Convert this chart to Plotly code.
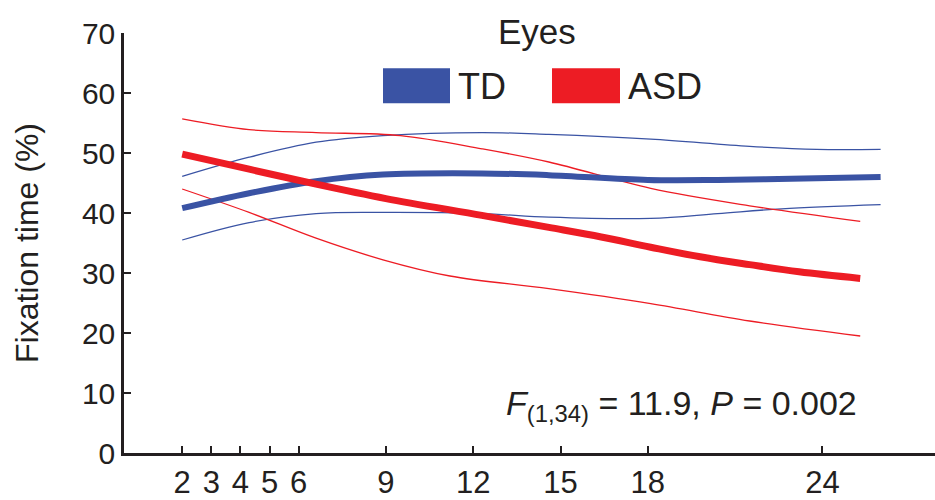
import plotly.graph_objects as go

# ---- data (age in months, fixation time in %) ----
td_months = [2, 4.3, 6.6, 8.9, 12.3, 14.6, 18.0, 20.4, 23.8, 26.0]
td_mean = [40.8, 43.3, 45.3, 46.4, 46.6, 46.3, 45.5, 45.5, 45.8, 46.0]
td_up_months = [2, 4.3, 6.6, 8.9, 12.3, 14.6, 18.1, 21.5, 23.8, 26.0]
td_upper = [46.1, 49.3, 51.8, 52.9, 53.4, 53.1, 52.3, 51.1, 50.6, 50.6]
td_lo_months = [2, 4.3, 6.6, 8.9, 12.3, 14.6, 18.1, 20.4, 22.6, 26.0]
td_lower = [35.5, 38.4, 39.9, 40.1, 39.9, 39.3, 39.1, 39.9, 40.7, 41.4]

asd_months = [2, 4.3, 6.6, 9.0, 12.3, 14.6, 16.4, 18.1, 19.8, 21.5, 23.2, 25.3]
asd_mean = [49.8, 47.3, 44.8, 42.4, 39.6, 37.6, 36.0, 34.3, 32.7, 31.4, 30.2, 29.1]
asd_up_months = [2, 4.3, 6.6, 9.5, 12.3, 14.6, 18.1, 21.5, 25.3]
asd_upper = [55.7, 53.9, 53.4, 52.9, 50.7, 48.5, 44.1, 41.2, 38.6]
asd_lo_months = [2, 4.3, 6.6, 8.9, 11.2, 14.6, 18.1, 21.5, 25.3]
asd_lower = [44.0, 40.1, 35.8, 32.2, 29.5, 27.4, 24.9, 22.0, 19.5]

x_ticks = [2, 3, 4, 5, 6, 9, 12, 15, 18, 24]
y_ticks = [0, 10, 20, 30, 40, 50, 60, 70]

BLUE = "#3a53a4"
RED = "#ed1c24"
INK = "#231f20"
FONT = "Liberation Sans, Arial, Helvetica, sans-serif"

W, H = 935, 500
ML, MR, MT, MB = 124, 0, 33, 37


def px(xp):
    return (xp - ML) / (W - ML - MR)


def py(yp):
    return (H - MB - yp) / (H - MT - MB)


fig = go.Figure()

def add(xs, ys, color, width):
    fig.add_trace(go.Scatter(x=xs, y=ys, mode="lines",
                             line=dict(color=color, width=width, shape="spline", smoothing=1.0),
                             showlegend=False, hoverinfo="skip"))

add(td_up_months, td_upper, BLUE, 1.3)
add(td_lo_months, td_lower, BLUE, 1.3)
add(asd_up_months, asd_upper, RED, 1.3)
add(asd_lo_months, asd_lower, RED, 1.3)
add(td_months, td_mean, BLUE, 6)
add(asd_months, asd_mean, RED, 7)

xmax = (W - ML - MR) / 29.1

fig.update_layout(
    width=W, height=H,
    margin=dict(l=ML, r=MR, t=MT, b=MB),
    paper_bgcolor="white", plot_bgcolor="white",
    font=dict(family=FONT, color=INK, size=30),
    xaxis=dict(range=[0, xmax], tickvals=x_ticks, ticktext=[str(v) for v in x_ticks],
               showgrid=False, zeroline=False, showline=True, linecolor=INK, linewidth=2.5,
               ticks="inside", ticklen=7, tickwidth=2, tickcolor=INK,
               tickfont=dict(size=31, color=INK)),
    yaxis=dict(range=[0, 70], tickvals=y_ticks,
               showgrid=False, zeroline=False, showline=True, linecolor=INK, linewidth=2.5,
               ticks="inside", ticklen=7, tickwidth=2, tickcolor=INK,
               tickfont=dict(size=30, color=INK),
               title=dict(text="Fixation time (%)", font=dict(size=32, color=INK), standoff=34)),
)

shapes = []
annotations = []
# legend swatches
shapes.append(dict(type="rect", xref="paper", yref="paper", x0=px(383), x1=px(450),
                   y0=py(105), y1=py(69), fillcolor=BLUE, line=dict(width=0)))
shapes.append(dict(type="rect", xref="paper", yref="paper", x0=px(552), x1=px(620),
                   y0=py(105), y1=py(69), fillcolor=RED, line=dict(width=0)))
annotations.append(dict(text="TD", xref="paper", yref="paper", x=px(456), y=py(88),
                        xanchor="left", yanchor="middle", showarrow=False,
                        font=dict(size=36, color=INK)))
annotations.append(dict(text="ASD", xref="paper", yref="paper", x=px(626), y=py(88),
                        xanchor="left", yanchor="middle", showarrow=False,
                        font=dict(size=36, color=INK)))
annotations.append(dict(text="Eyes", xref="paper", yref="paper", x=px(537), y=py(31),
                        xanchor="center", yanchor="middle", showarrow=False,
                        font=dict(size=35, color=INK)))
annotations.append(dict(text="<i>F</i><sub>(1,34)</sub> = 11.9, <i>P</i> = 0.002",
                        xref="paper", yref="paper", x=px(859), y=py(414),
                        xanchor="right", yanchor="middle", showarrow=False,
                        font=dict(size=34, color=INK)))
fig.update_layout(shapes=shapes, annotations=annotations)

fig.write_html("out.html")
